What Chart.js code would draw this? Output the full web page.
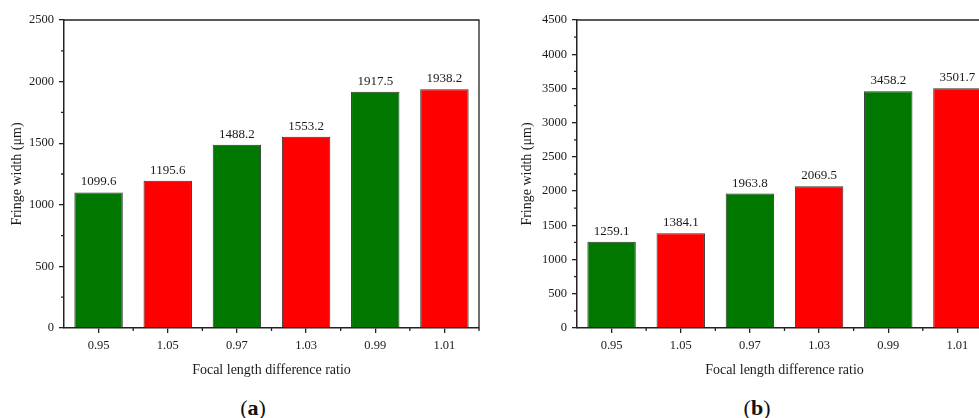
<!DOCTYPE html>
<html>
<head>
<meta charset="utf-8">
<script src="https://cdn.jsdelivr.net/npm/chart.js@4.4.0/dist/chart.umd.min.js"></script>
<style>
  html, body { margin: 0; padding: 0; background: #fff; overflow: hidden; }
  body { width: 979px; height: 418px; position: relative; }
  .box { position: absolute; top: 0; }
  .tag {
    position: absolute;
    top: 396px;
    line-height: 24px;
    font-family: "Liberation Serif", serif;
    font-size: 22px;
    color: #111;
    transform: translateX(-50%);
    white-space: nowrap;
  }
</style>
</head>
<body>
<div class="box" style="left:0px"><canvas id="chartA" width="490" height="382"></canvas></div>
<div class="box" style="left:513px"><canvas id="chartB" width="490" height="382"></canvas></div>
<div class="tag" style="left:253px">(<b>a</b>)</div>
<div class="tag" style="left:757px">(<b>b</b>)</div>

<script>
// data
const categories = ["0.95", "1.05", "0.97", "1.03", "0.99", "1.01"];
const valuesA = [1099.6, 1195.6, 1488.2, 1553.2, 1917.5, 1938.2];
const valuesB = [1259.1, 1384.1, 1963.8, 2069.5, 3458.2, 3501.7];
const barColors = ["#007800", "#ff0000", "#007800", "#ff0000", "#007800", "#ff0000"];
const yMaxA = 2500;
const yMaxB = 4500;
const yStep = 500;

const serif = "'Liberation Serif', 'Times New Roman', serif";
const axisColor = "#222";

// value text over each bar
const valueLabels = {
  id: "valueLabels",
  afterDatasetsDraw(chart) {
    const ctx = chart.ctx;
    const meta = chart.getDatasetMeta(0);
    const vals = chart.data.datasets[0].data;
    ctx.save();
    ctx.font = "13px " + serif;
    ctx.fillStyle = "#1a1a1a";
    ctx.textAlign = "center";
    ctx.textBaseline = "bottom";
    meta.data.forEach((bar, i) => {
      ctx.fillText(vals[i].toFixed(1), bar.x, bar.y - 4);
    });
    ctx.restore();
  },
};

// top/right frame lines and short minor ticks
const frameAndMinor = {
  id: "frameAndMinor",
  afterDraw(chart) {
    const ctx = chart.ctx;
    const a = chart.chartArea;
    const xs = chart.scales.x;
    const ys = chart.scales.y;
    ctx.save();
    ctx.strokeStyle = axisColor;
    ctx.lineWidth = 1.3;
    ctx.beginPath();
    ctx.moveTo(a.left, a.top);
    ctx.lineTo(a.right, a.top);
    ctx.lineTo(a.right, a.bottom);
    ctx.stroke();

    ctx.beginPath();
    // y minor ticks halfway between major ones
    for (let i = 0; i < ys.ticks.length - 1; i++) {
      const y = (ys.getPixelForValue(ys.ticks[i].value) + ys.getPixelForValue(ys.ticks[i + 1].value)) / 2;
      ctx.moveTo(a.left - 3, y);
      ctx.lineTo(a.left, y);
    }
    // x minor ticks on category boundaries
    const n = chart.data.labels.length;
    for (let i = 0; i < n; i++) {
      const x = i < n - 1
        ? (xs.getPixelForTick(i) + xs.getPixelForTick(i + 1)) / 2
        : a.right;
      ctx.moveTo(x, a.bottom);
      ctx.lineTo(x, a.bottom + 3);
    }
    ctx.stroke();
    ctx.restore();
  },
};

function makeConfig(values, yMax, titleOffset) {
  return {
    type: "bar",
    data: {
      labels: categories,
      datasets: [
        {
          data: values,
          backgroundColor: barColors,
          borderColor: "#333",
          borderWidth: 1,
          barPercentage: 0.7,
          categoryPercentage: 1,
        },
      ],
    },
    options: {
      responsive: false,
      animation: false,
      layout: {
        padding: { top: 20, right: 11, left: 0, bottom: 0 },
      },
      plugins: {
        legend: { display: false },
        tooltip: { enabled: false },
      },
      scales: {
        x: {
          grid: {
            offset: false,
            drawOnChartArea: false,
            tickLength: 5,
            color: axisColor,
            lineWidth: 1.3,
          },
          border: { color: axisColor, width: 1.5 },
          ticks: {
            color: "#1a1a1a",
            padding: 5,
            font: { family: serif, size: 12.5 },
          },
          title: {
            display: true,
            text: "Focal length difference ratio",
            color: "#1a1a1a",
            padding: { top: 0, bottom: 3 },
            font: { family: serif, size: 14 },
          },
          afterFit(scale) {
            scale.height = 54;
          },
        },
        y: {
          min: 0,
          max: yMax,
          grid: {
            drawOnChartArea: false,
            tickLength: 5,
            color: axisColor,
            lineWidth: 1.3,
          },
          border: { color: axisColor, width: 1.5 },
          ticks: {
            stepSize: yStep,
            color: "#1a1a1a",
            padding: 5,
            font: { family: serif, size: 12.5 },
            callback: (v) => String(v),
          },
          title: {
            display: true,
            text: "Fringe width (μm)",
            color: "#1a1a1a",
            padding: { top: titleOffset, bottom: 0 },
            font: { family: serif, size: 14 },
          },
          afterFit(scale) {
            scale.width = 64;
          },
        },
      },
    },
    plugins: [valueLabels, frameAndMinor],
  };
}

const chartA = new Chart(document.getElementById("chartA"), makeConfig(valuesA, yMaxA, 9));
const chartB = new Chart(document.getElementById("chartB"), makeConfig(valuesB, yMaxB, 5.6));
</script>
</body>
</html>
